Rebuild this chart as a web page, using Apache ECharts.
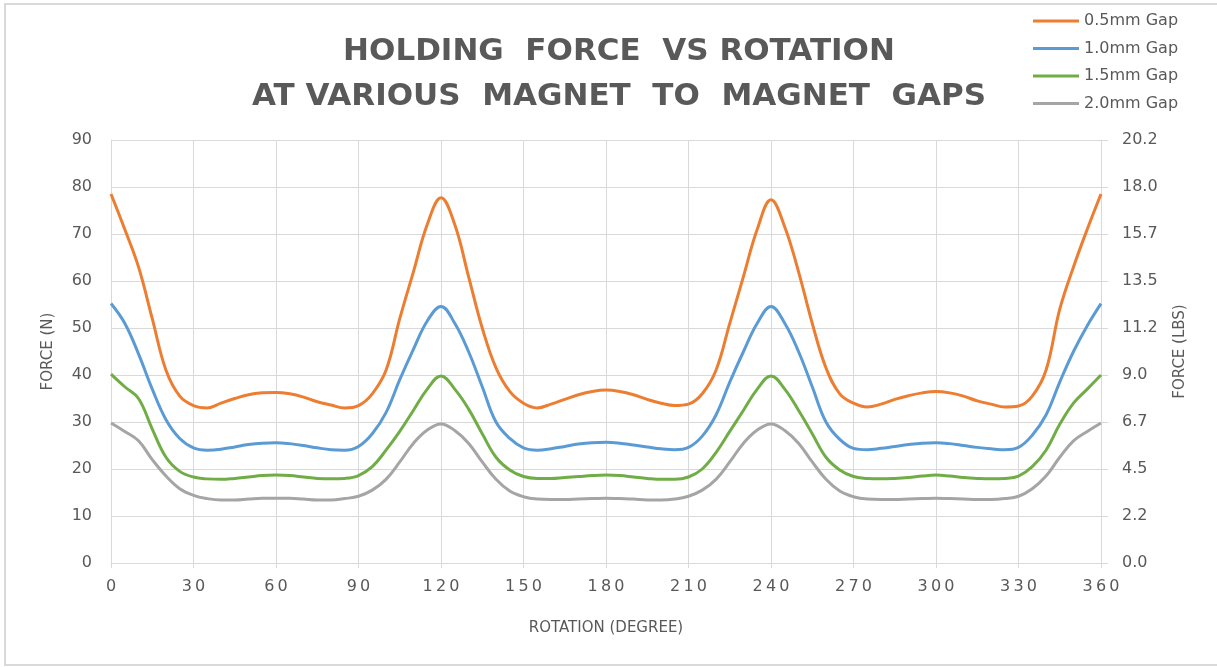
<!DOCTYPE html>
<html>
<head>
<meta charset="utf-8">
<script src="https://cdn.jsdelivr.net/npm/echarts@6/dist/echarts.min.js"></script>
<style>html,body{margin:0;padding:0;background:#fff;}#c{width:1217px;height:667px;}</style>
</head>
<body>
<div id="c"></div>
<script>
const angles = [0,5,10,15,20,25,30,35,40,45,50,55,60,65,70,75,80,85,90,95,100,105,110,115,120,125,130,135,140,145,150,155,160,165,170,175,180,185,190,195,200,205,210,215,220,225,230,235,240,245,250,255,260,265,270,275,280,285,290,295,300,305,310,315,320,325,330,335,340,345,350,355,360];
const gap05 = [78.5,71,63,52,41,35.5,33.5,33,34,35,35.8,36.2,36.3,36,35.3,34.3,33.6,33,33.5,36,41,52,62,72,77.7,72,61,50,41.5,36.5,34,33,33.8,34.8,35.8,36.5,36.8,36.5,35.8,34.8,34,33.5,33.8,36,41,51,61,71,77.3,71.5,62,51,41.5,36,34,33.2,33.8,34.8,35.6,36.2,36.5,36.2,35.5,34.5,33.8,33.2,33.4,35.5,41,54,63,71,78.5];
const gap10 = [55.2,51,44.5,37,30.5,26.5,24.5,24,24.2,24.7,25.2,25.5,25.6,25.4,25,24.5,24.1,24,24.8,27.5,32,39,45.5,51.5,54.6,51,45,37.5,30,26.5,24.5,24,24.3,24.8,25.3,25.6,25.7,25.5,25.1,24.7,24.3,24.1,24.6,27,31.5,38.5,45,51,54.6,51,45,37.5,30,26.3,24.4,24.1,24.4,24.8,25.2,25.5,25.6,25.4,25,24.6,24.3,24.1,24.6,27.2,31.5,38.5,45,50.5,55.2];
const gap15 = [40.2,37.5,35,28.5,22.5,19.5,18.3,17.9,17.8,18,18.3,18.6,18.7,18.6,18.3,18,17.9,18,18.6,20.5,24,28,32.5,37,39.8,37,32.8,27.5,22.5,19.8,18.4,18,18,18.2,18.4,18.6,18.7,18.6,18.3,18,17.8,17.8,18.3,20,23.5,28,32.5,37,39.8,37,32.5,27.5,22.5,19.8,18.4,18,17.9,18,18.2,18.5,18.7,18.5,18.2,18,17.9,18,18.5,20.5,24,29.5,34,37,40];
const gap20 = [29.8,28,26,22,18.5,15.8,14.4,13.7,13.4,13.4,13.6,13.8,13.8,13.8,13.6,13.4,13.4,13.7,14.2,15.5,17.8,21.5,25.5,28.3,29.6,28.2,25.5,21.5,17.8,15.3,14.1,13.6,13.5,13.5,13.6,13.7,13.8,13.7,13.6,13.4,13.4,13.6,14.2,15.5,17.8,21.5,25.5,28.3,29.6,28.2,25.5,21.5,17.8,15.3,14.1,13.6,13.5,13.5,13.6,13.7,13.8,13.7,13.6,13.5,13.5,13.7,14.2,15.8,18.5,22.5,26,28,29.8];
const seriesNames = ['0.5mm Gap','1.0mm Gap','1.5mm Gap','2.0mm Gap'];
const seriesColors = ['#ED7D31','#5B9BD5','#70AD47','#A5A5A5'];
const N_PER_LB = 4.44822;

const pair = arr => angles.map((a,i)=>[a,arr[i]]);
const all = [gap05,gap10,gap15,gap20];
const txt = '#595959';
const grid = '#d9d9d9';
const font = 'DejaVu Sans';

const chart = echarts.init(document.getElementById('c'), null, {renderer:'canvas'});
chart.setOption({
  animation:false,
  backgroundColor:'#fff',
  graphic:[
    {type:'polyline',shape:{points:[[1217,4],[5,4],[5,665],[1217,665]]},style:{fill:'none',stroke:'#d9d9d9',lineWidth:2},z:-1}
  ],
  title:{
    text:'HOLDING  FORCE  VS ROTATION\nAT VARIOUS  MAGNET  TO  MAGNET  GAPS',
    left:614, top:24, textAlign:'center',
    textStyle:{fontFamily:font,fontSize:31,fontWeight:'bold',color:txt,lineHeight:45}
  },
  legend:{
    orient:'vertical', left:1033, top:13, padding:0, itemWidth:46, itemHeight:14, itemGap:11.5,
    textStyle:{fontFamily:font,fontSize:16,color:txt},
    data:seriesNames.map((n,i)=>({name:n,itemStyle:{color:seriesColors[i]},icon:'path://M0,6L46,6L46,9L0,9Z'}))
  },
  grid:{left:111,right:116,top:140,bottom:104},
  xAxis:{
    type:'value',min:0,max:360,interval:30,
    name:'ROTATION (DEGREE)',nameLocation:'middle',nameGap:58,
    nameTextStyle:{fontFamily:font,fontSize:15,color:txt},
    axisLine:{show:true,lineStyle:{color:grid,width:1}},
    axisTick:{show:true,length:5,lineStyle:{color:grid}},
    axisLabel:{fontFamily:font,fontSize:16,color:txt,margin:16,formatter:v=>String(v).split('').join('\u2009')},
    splitLine:{show:true,lineStyle:{color:grid,width:1}}
  },
  yAxis:[{
    type:'value',min:0,max:90,interval:10,
    name:'FORCE (N)',nameLocation:'middle',nameGap:55,nameRotate:90,
    nameTextStyle:{fontFamily:font,fontSize:15,color:txt},
    axisLine:{show:true,lineStyle:{color:grid}},
    axisTick:{show:false},
    axisLabel:{fontFamily:font,fontSize:16,color:txt,margin:19},
    splitLine:{show:true,lineStyle:{color:grid,width:1}}
  },{
    type:'value',min:0,max:90,interval:10,position:'right',
    name:'FORCE (LBS)',nameLocation:'middle',nameGap:72,nameRotate:90,
    nameTextStyle:{fontFamily:font,fontSize:15,color:txt},
    axisLine:{show:true,lineStyle:{color:grid}},
    axisTick:{show:true,length:7,lineStyle:{color:grid}},
    axisLabel:{fontFamily:font,fontSize:16,color:txt,margin:21,formatter:v=>(v/N_PER_LB).toFixed(1)},
    splitLine:{show:false}
  }],
  series: all.map((arr,i)=>({
    name:seriesNames[i],type:'line',data:pair(arr),smooth:0.4,showSymbol:false,symbol:'none',
    lineStyle:{color:seriesColors[i],width:3},itemStyle:{color:seriesColors[i]}
  }))
});
</script>
</body>
</html>
